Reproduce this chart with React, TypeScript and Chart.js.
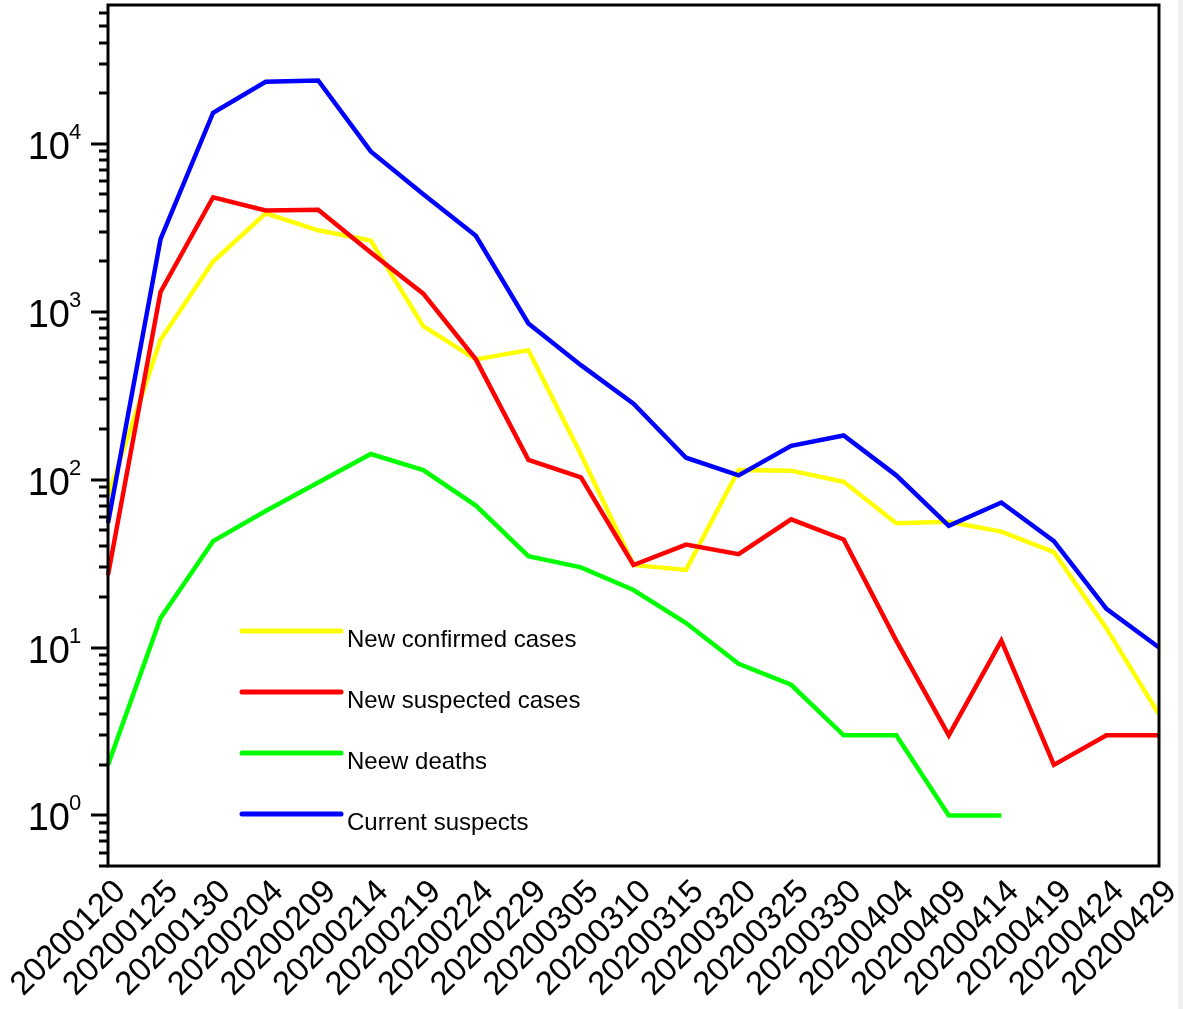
import React, { useEffect, useRef } from "react";
import { Chart, registerables } from "chart.js";

Chart.register(...registerables);

const dates = [
  "20200120", "20200125", "20200130", "20200204", "20200209", "20200214", "20200219",
  "20200224", "20200229", "20200305", "20200310", "20200315", "20200320", "20200325",
  "20200330", "20200404", "20200409", "20200414", "20200419", "20200424", "20200429",
];

const newConfirmed = [80, 680, 1990, 3850, 3050, 2650, 820, 520, 590, 141, 31, 29, 114, 113, 97, 55, 56, 49, 37, 13, 4];
const newSuspected = [27, 1310, 4800, 4000, 4050, 2250, 1280, 520, 131, 103, 31, 41, 36, 58, 44, 11, 3, 11, 2, 3, 3];
const newDeaths = [2, 15, 43, 65, 96, 142, 114, 70, 35, 30, 22, 14, 8, 6, 3, 3, 1, 1, null, null, null];
const currentSuspects = [55, 2700, 15300, 23400, 23800, 9000, 5000, 2830, 850, 480, 283, 135, 106, 159, 183, 106, 53, 73, 43, 17, 10];

const seriesLabels = ["New confirmed cases", "New suspected cases", "Neew deaths", "Current suspects"];
const seriesColors = ["#FFFF00", "#FF0000", "#00FF00", "#0000FF"];
const yDecades = [0, 1, 2, 3, 4];

const FONT = "'Liberation Sans', Arial, sans-serif";

const axisPlugin = {
  id: "axisDecor",
  afterDraw(chart: any) {
    const { ctx, chartArea: a } = chart;
    const y = chart.scales.y;
    const x = chart.scales.x;
    ctx.save();
    ctx.strokeStyle = "#000";
    ctx.lineWidth = 3;
    ctx.strokeRect(a.left, a.top, a.right - a.left, a.bottom - a.top);

    // y ticks
    for (let e = -1; e <= 5; e++) {
      for (let m = 1; m <= 9; m++) {
        const v = m * Math.pow(10, e);
        if (v < y.min * 0.999 || v > y.max) continue;
        const py = Math.round(y.getPixelForValue(v));
        const len = m === 1 ? 17 : 9;
        ctx.beginPath();
        ctx.moveTo(a.left - len, py);
        ctx.lineTo(a.left, py);
        ctx.stroke();
      }
    }

    // y labels 10^k
    ctx.fillStyle = "#000";
    for (const k of yDecades) {
      const py = y.getPixelForValue(Math.pow(10, k));
      ctx.font = `38px ${FONT}`;
      ctx.textAlign = "right";
      ctx.textBaseline = "alphabetic";
      ctx.fillText("10", a.left - 38, py + 15);
      ctx.font = `22px ${FONT}`;
      ctx.textAlign = "left";
      ctx.fillText(String(k), a.left - 39, py - 5);
    }

    // x labels rotated 45 degrees
    ctx.font = `33px ${FONT}`;
    ctx.textAlign = "right";
    ctx.textBaseline = "alphabetic";
    chart.data.labels.forEach((lab: string, i: number) => {
      const px = x.getPixelForValue(i);
      ctx.save();
      ctx.translate(px + 19, a.bottom + 27);
      ctx.rotate(-Math.PI / 4);
      ctx.fillText(lab, 0, 0);
      ctx.restore();
    });

    // legend
    const lx0 = a.left + 134;
    const lx1 = a.left + 233;
    chart.data.datasets.forEach((ds: any, i: number) => {
      const ly = a.top + 626 + i * 61;
      ctx.strokeStyle = ds.borderColor;
      ctx.lineWidth = 5;
      ctx.lineCap = "round";
      ctx.beginPath();
      ctx.moveTo(lx0, ly);
      ctx.lineTo(lx1, ly);
      ctx.stroke();
      ctx.fillStyle = "#000";
      ctx.font = `24px ${FONT}`;
      ctx.textAlign = "left";
      ctx.textBaseline = "alphabetic";
      ctx.fillText(ds.label, a.left + 239, ly + 16);
    });
    ctx.restore();
  },
};

export default function App() {
  const ref = useRef<HTMLCanvasElement | null>(null);

  useEffect(() => {
    if (!ref.current) return;
    const series = [newConfirmed, newSuspected, newDeaths, currentSuspects];
    const drawOrder = [3, 1, 2, 0];
    const chart = new Chart(ref.current, {
      type: "line",
      data: {
        labels: dates,
        datasets: series.map((d, i) => ({
          label: seriesLabels[i],
          data: d,
          borderColor: seriesColors[i],
          backgroundColor: seriesColors[i],
          borderWidth: 4.5,
          pointRadius: 0,
          pointHoverRadius: 0,
          tension: 0,
          fill: false,
          spanGaps: false,
          order: drawOrder[i],
        })),
      },
      options: {
        responsive: false,
        animation: false,
        devicePixelRatio: 1,
        layout: { padding: { top: 5, right: 24, left: 0, bottom: 0 } },
        plugins: {
          legend: { display: false },
          tooltip: { enabled: false },
          title: { display: false },
        },
        scales: {
          x: {
            type: "category",
            offset: false,
            grid: { display: false },
            border: { display: false },
            ticks: { display: false, autoSkip: false },
            afterFit(s: any) {
              s.height = 143;
            },
          },
          y: {
            type: "logarithmic",
            min: 0.5,
            max: 67000,
            grid: { display: false },
            border: { display: false },
            ticks: { display: false },
            afterFit(s: any) {
              s.width = 108;
            },
          },
        },
      },
      plugins: [axisPlugin],
    });
    return () => chart.destroy();
  }, []);

  return (
    <div style={{ position: "absolute", left: 0, top: 0, width: 1183, height: 1009, background: "#fff" }}>
      <canvas ref={ref} width={1183} height={1009} style={{ display: "block" }} />
      <div style={{ position: "absolute", left: 1178, top: 0, width: 5, height: 1009, background: "#f0f0f0" }} />
    </div>
  );
}
